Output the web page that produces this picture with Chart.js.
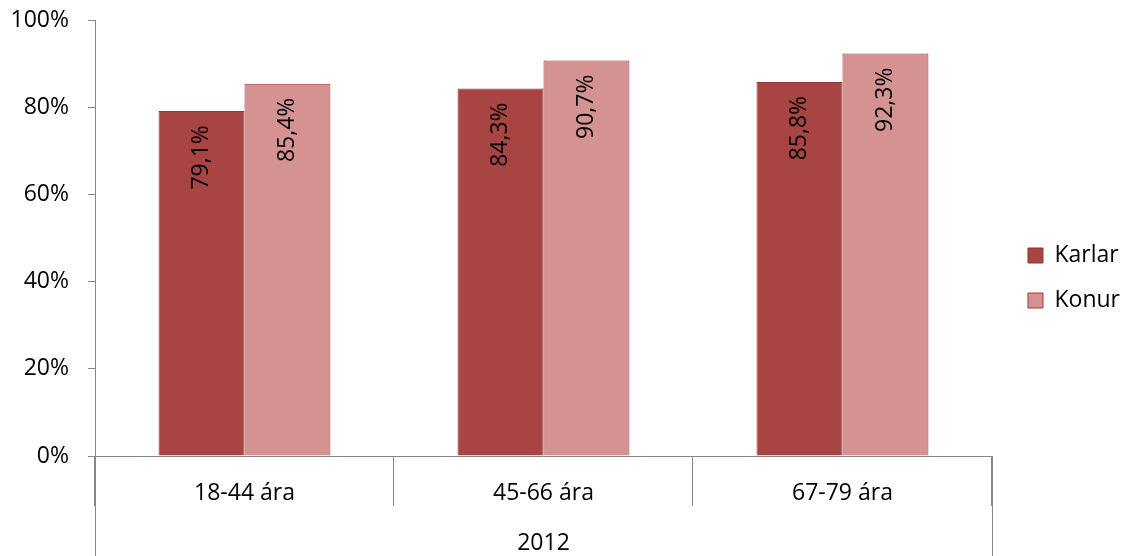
<!DOCTYPE html>
<html>
<head>
<meta charset="utf-8">
<script src="https://cdn.jsdelivr.net/npm/chart.js@4"></script>
<style>
  html, body { margin: 0; padding: 0; background: #fff; }
  #wrap { width: 1125px; height: 556px; }
</style>
</head>
<body>
<div id="wrap"><canvas id="chart" width="1125" height="556"></canvas></div>
<script>
// Chart data
const categories = ['18-44 ára', '45-66 ára', '67-79 ára'];
const groupLabel = '2012';
const karlar = [79.1, 84.3, 85.8];
const konur = [85.4, 90.7, 92.3];
const seriesNames = ['Karlar', 'Konur'];
const yTicks = [0, 20, 40, 60, 80, 100];

const FONT = '"Open Sans", "Noto Sans", sans-serif';
const FSIZE = 23;
const axisGrey = '#868686';

// Rotated value labels inside bars
const barLabels = {
  id: 'barLabels',
  afterDatasetsDraw(chart) {
    const ctx = chart.ctx;
    ctx.save();
    ctx.fillStyle = '#000';
    ctx.font = FSIZE + 'px ' + FONT;
    ctx.textAlign = 'right';
    ctx.textBaseline = 'middle';
    chart.data.datasets.forEach((ds, i) => {
      chart.getDatasetMeta(i).data.forEach((bar, j) => {
        const txt = ds.data[j].toFixed(1).replace('.', ',') + '%';
        ctx.save();
        ctx.translate(bar.x, bar.y);
        ctx.rotate(-Math.PI / 2);
        ctx.fillText(txt, -14, 0);
        ctx.restore();
      });
    });
    ctx.restore();
  }
};

// Second level of category axis ("2012") and outer separators
const groupAxis = {
  id: 'groupAxis',
  afterLayout(chart) {
    // push the legend items a bit away from the plot, like the original
    if (chart.legend) {
      chart.legend.left += 14;
      chart.legend.right += 14;
    }
  },
  afterDraw(chart) {
    const ctx = chart.ctx;
    const area = chart.chartArea;
    ctx.save();
    ctx.strokeStyle = axisGrey;
    ctx.lineWidth = 1;
    ctx.beginPath();
    ctx.moveTo(Math.round(area.left) + 0.5, area.bottom);
    ctx.lineTo(Math.round(area.left) + 0.5, chart.height);
    ctx.moveTo(Math.round(area.right) + 0.5, area.bottom);
    ctx.lineTo(Math.round(area.right) + 0.5, chart.height);
    ctx.stroke();
    ctx.fillStyle = '#000';
    ctx.font = FSIZE + 'px ' + FONT;
    ctx.textAlign = 'center';
    ctx.textBaseline = 'middle';
    ctx.fillText(groupLabel, (area.left + area.right) / 2, 543);
    ctx.restore();
  }
};

new Chart(document.getElementById('chart').getContext('2d'), {
  type: 'bar',
  data: {
    labels: categories,
    datasets: [
      {
        label: seriesNames[0],
        data: karlar,
        backgroundColor: '#A84542',
        borderColor: '#8E3733',
        borderWidth: 1,
        categoryPercentage: 0.575,
        barPercentage: 1
      },
      {
        label: seriesNames[1],
        data: konur,
        backgroundColor: '#D49292',
        borderColor: '#9E3A37',
        borderWidth: 1,
        categoryPercentage: 0.575,
        barPercentage: 1
      }
    ]
  },
  options: {
    responsive: false,
    animation: false,
    layout: { padding: { top: 0, right: 9, left: 0, bottom: 0 } },
    plugins: {
      legend: {
        position: 'right',
        labels: {
          color: '#000',
          font: { family: FONT, size: FSIZE },
          boxWidth: 15,
          boxHeight: 15,
          padding: 22
        }
      },
      tooltip: { enabled: false }
    },
    scales: {
      x: {
        offset: true,
        grid: {
          offset: true,
          drawOnChartArea: false,
          drawTicks: true,
          tickLength: 50,
          color: axisGrey
        },
        border: { color: axisGrey },
        ticks: {
          color: '#000',
          font: { family: FONT, size: FSIZE },
          padding: -26
        },
        afterFit(scale) { scale.height = 100; }
      },
      y: {
        min: 0,
        max: 100,
        afterBuildTicks(scale) {
          scale.ticks = yTicks.map(v => ({ value: v }));
        },
        grid: {
          drawOnChartArea: false,
          tickLength: 7,
          color: axisGrey
        },
        border: { color: axisGrey },
        ticks: {
          color: '#000',
          font: { family: FONT, size: FSIZE },
          padding: 19,
          callback: v => v + '%'
        },
        afterFit(scale) {
          scale.width = 95;
          scale.paddingTop = 20;
          scale.paddingBottom = 14;
        }
      }
    }
  },
  plugins: [barLabels, groupAxis]
});
</script>
</body>
</html>
